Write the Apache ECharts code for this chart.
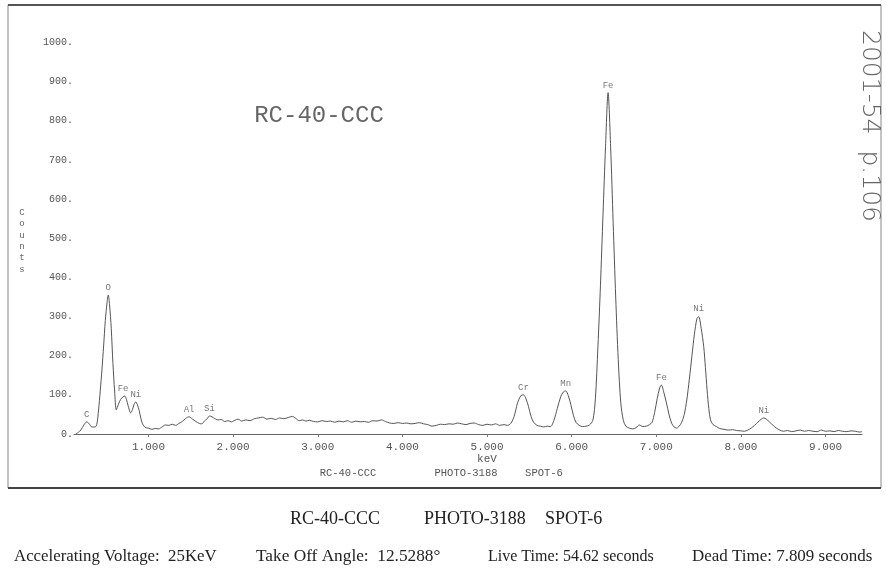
<!DOCTYPE html>
<html>
<head>
<meta charset="utf-8">
<script src="https://cdn.jsdelivr.net/npm/echarts@6/dist/echarts.min.js"></script>
<style>
  html, body { margin: 0; padding: 0; background: #fff; }
  #spectrum { width: 886px; height: 573px; }
</style>
</head>
<body>
<div id="spectrum"></div>
<script>
// energy (keV) and counts
const spectrumKeV = [
  0.14, 0.17, 0.20, 0.24, 0.27, 0.30, 0.33, 0.37, 0.39, 0.41, 0.43, 0.45, 0.47, 0.49, 0.51, 0.525, 0.54, 0.56, 0.58, 0.60,
  0.62, 0.645, 0.67, 0.70, 0.72, 0.74, 0.76, 0.79, 0.81, 0.83, 0.85, 0.87, 0.89, 0.91, 0.93, 0.96, 1.00, 1.04, 1.08, 1.12,
  1.16, 1.20, 1.24, 1.28, 1.32, 1.36, 1.40, 1.44, 1.48, 1.52, 1.56, 1.60, 1.63, 1.66, 1.69, 1.72, 1.75, 1.78, 1.82, 1.86,
  1.90, 1.94, 1.98, 2.02, 2.06, 2.10, 2.15, 2.20, 2.25, 2.30, 2.35, 2.40, 2.45, 2.50, 2.55, 2.60, 2.65, 2.70, 2.74, 2.78,
  2.82, 2.86, 2.90, 2.95, 3.00, 3.05, 3.10, 3.15, 3.20, 3.25, 3.30, 3.35, 3.40, 3.45, 3.50, 3.55, 3.60, 3.65, 3.70, 3.75,
  3.80, 3.85, 3.90, 3.95, 4.00, 4.05, 4.10, 4.15, 4.20, 4.25, 4.30, 4.35, 4.40, 4.45, 4.50, 4.55, 4.60, 4.65, 4.70, 4.75,
  4.80, 4.85, 4.90, 4.95, 5.00, 5.05, 5.10, 5.15, 5.20, 5.24, 5.28, 5.32, 5.36, 5.40, 5.43, 5.46, 5.49, 5.52, 5.55, 5.59,
  5.63, 5.67, 5.71, 5.75, 5.79, 5.83, 5.87, 5.90, 5.93, 5.96, 5.99, 6.02, 6.05, 6.09, 6.13, 6.17, 6.21, 6.25, 6.28, 6.31,
  6.34, 6.37, 6.40, 6.43, 6.46, 6.49, 6.52, 6.55, 6.58, 6.61, 6.64, 6.68, 6.72, 6.76, 6.80, 6.84, 6.88, 6.92, 6.95, 6.98,
  7.01, 7.04, 7.06, 7.09, 7.12, 7.15, 7.18, 7.21, 7.24, 7.27, 7.30, 7.33, 7.36, 7.39, 7.42, 7.45, 7.48, 7.50, 7.53, 7.56,
  7.58, 7.60, 7.62, 7.64, 7.67, 7.71, 7.75, 7.80, 7.85, 7.90, 7.95, 8.00, 8.04, 8.08, 8.12, 8.16, 8.20, 8.24, 8.27, 8.30,
  8.34, 8.38, 8.42, 8.46, 8.50, 8.55, 8.60, 8.65, 8.70, 8.75, 8.80, 8.85, 8.90, 8.95, 9.00, 9.05, 9.10, 9.15, 9.20, 9.25,
  9.30, 9.35, 9.40, 9.43
];
const spectrumCounts = [
  0, 4, 10, 24, 31, 26, 18, 18, 25, 61, 110, 164, 225, 290, 335, 355, 330, 270, 180, 110,
  62, 76, 88, 95, 97, 88, 72, 54, 62, 76, 82, 74, 60, 40, 26, 17, 15, 12, 14, 13,
  18, 23, 22, 25, 22, 27, 32, 40, 44, 38, 32, 27, 26, 33, 38, 46, 44, 40, 36, 37,
  32, 34, 31, 35, 38, 33, 36, 34, 39, 41, 43, 38, 40, 37, 41, 39, 42, 45, 40, 34,
  36, 33, 35, 32, 31, 34, 32, 33, 30, 33, 31, 34, 30, 33, 31, 32, 30, 34, 33, 36,
  32, 28, 27, 29, 27, 28, 26, 27, 29, 26, 24, 20, 22, 25, 24, 26, 25, 28, 26, 24,
  27, 28, 24, 22, 25, 23, 26, 22, 24, 22, 27, 45, 79, 98, 100, 90, 70, 45, 30, 22,
  20, 18, 20, 19, 35, 65, 95, 107, 110, 98, 75, 48, 30, 22, 19, 20, 23, 35, 90, 223,
  380, 560, 734, 872, 734, 540, 350, 190, 80, 35, 20, 15, 13, 16, 23, 19, 20, 24, 30, 55,
  90, 118, 125, 105, 79, 50, 28, 18, 15, 20, 30, 50, 87, 140, 198, 255, 295, 300, 270, 223,
  170, 112, 65, 36, 24, 19, 14, 12, 10, 11, 9, 8, 7, 10, 15, 22, 30, 38, 41, 38,
  30, 22, 15, 10, 7, 9, 6, 8, 10, 7, 9, 7, 6, 10, 7, 8, 6, 9, 7, 6,
  8, 7, 5, 6
];

// element markers above the peaks
const peakNames  = ['C', 'O', 'Fe', 'Ni', 'Al', 'Si', 'Cr', 'Mn', 'Fe', 'Fe', 'Ni', 'Ni'];
const peakKeV    = [0.27, 0.525, 0.70, 0.85, 1.48, 1.72, 5.43, 5.93, 6.43, 7.06, 7.50, 8.27];
const peakCounts = [31, 355, 97, 82, 44, 46, 100, 110, 872, 125, 300, 41];

const xTicks = [1, 2, 3, 4, 5, 6, 7, 8, 9];
const yTicks = [0, 100, 200, 300, 400, 500, 600, 700, 800, 900, 1000];

const mono = '"Liberation Mono", "DejaVu Sans Mono", monospace';
const serif = '"Liberation Serif", "DejaVu Serif", serif';
const ink = '#555';

const chart = echarts.init(document.getElementById('spectrum'));

const lineData = spectrumKeV.map((k, i) => [k, spectrumCounts[i]]);
const peakData = peakKeV.map((k, i) => ({ value: [k, peakCounts[i]], name: peakNames[i] }));

// caption text below the printout (scanned, so widths are a bit stretched)
function caption(text, x, y, size, sx) {
  return {
    type: 'text', x: x, y: y, scaleX: sx || 1,
    style: { text: text, font: size + 'px ' + serif, fill: '#222', verticalAlign: 'middle' }
  };
}

const option = {
  animation: false,
  backgroundColor: '#fff',
  grid: { left: 74, top: 23, width: 788, height: 411 },
  xAxis: {
    type: 'value',
    min: 0.12,
    max: 9.43,
    axisLine: { lineStyle: { color: '#666', width: 1 } },
    axisTick: { customValues: xTicks, length: 3, lineStyle: { color: '#777' } },
    axisLabel: {
      customValues: xTicks,
      formatter: v => v.toFixed(3),
      fontFamily: mono, fontSize: 11, color: ink, margin: 8
    },
    splitLine: { show: false }
  },
  yAxis: {
    type: 'value',
    min: 0,
    max: 1050,
    axisLine: { show: false },
    axisTick: { show: false },
    splitLine: { show: false },
    axisLabel: {
      customValues: yTicks,
      formatter: v => v + '.',
      fontFamily: mono, fontSize: 10, color: ink, margin: 1
    }
  },
  series: [
    {
      type: 'line',
      data: lineData,
      showSymbol: false,
      smooth: 0.3,
      lineStyle: { color: '#555', width: 1 }
    },
    {
      type: 'scatter',
      data: peakData,
      symbolSize: 0,
      silent: true,
      label: {
        show: true,
        position: 'top',
        distance: 3,
        formatter: p => p.name,
        fontFamily: mono, fontSize: 9, color: ink
      }
    }
  ],
  graphic: [
    // scanned page frame
    { type: 'rect', shape: { x: 8, y: 5, width: 873, height: 483 }, style: { fill: 'none', stroke: '#888', lineWidth: 1 } },
    { type: 'line', shape: { x1: 8, y1: 5, x2: 881, y2: 5 }, style: { stroke: '#555', lineWidth: 2 } },
    { type: 'line', shape: { x1: 8, y1: 488, x2: 881, y2: 488 }, style: { stroke: '#444', lineWidth: 2 } },
    { type: 'text', x: 319, y: 116, style: { text: 'RC-40-CCC', font: '24px ' + mono, fill: '#666', align: 'center', verticalAlign: 'middle' } },
    { type: 'text', x: 22, y: 241, style: { text: 'C\no\nu\nn\nt\ns', font: '9px ' + mono, lineHeight: 11.4, fill: '#666', align: 'center', verticalAlign: 'middle' } },
    { type: 'text', x: 487, y: 459, style: { text: 'keV', font: '11px ' + mono, fill: ink, align: 'center', verticalAlign: 'middle' } },
    { type: 'text', x: 348, y: 473, style: { text: 'RC-40-CCC', font: '10.5px ' + mono, fill: ink, align: 'center', verticalAlign: 'middle' } },
    { type: 'text', x: 466, y: 473, style: { text: 'PHOTO-3188', font: '10.5px ' + mono, fill: ink, align: 'center', verticalAlign: 'middle' } },
    { type: 'text', x: 544, y: 473, style: { text: 'SPOT-6', font: '10.5px ' + mono, fill: ink, align: 'center', verticalAlign: 'middle' } },
    // handwritten page note, reads top to bottom
    { type: 'text', x: 869, y: 126, rotation: -Math.PI / 2, style: { text: '2001-54  p.106', font: '200 25px "DejaVu Sans"', fill: '#666', align: 'center', verticalAlign: 'middle' } },
    caption('RC-40-CCC', 290, 519, 18),
    caption('PHOTO-3188', 424, 519, 18),
    caption('SPOT-6', 545, 519, 18),
    caption('Accelerating Voltage:  25KeV', 14, 557, 16, 1.05),
    caption('Take Off Angle:  12.5288°', 256, 557, 16, 1.08),
    caption('Live Time: 54.62 seconds', 488, 557, 16),
    caption('Dead Time: 7.809 seconds', 692, 557, 16, 1.06)
  ]
};

chart.setOption(option);
</script>
</body>
</html>
